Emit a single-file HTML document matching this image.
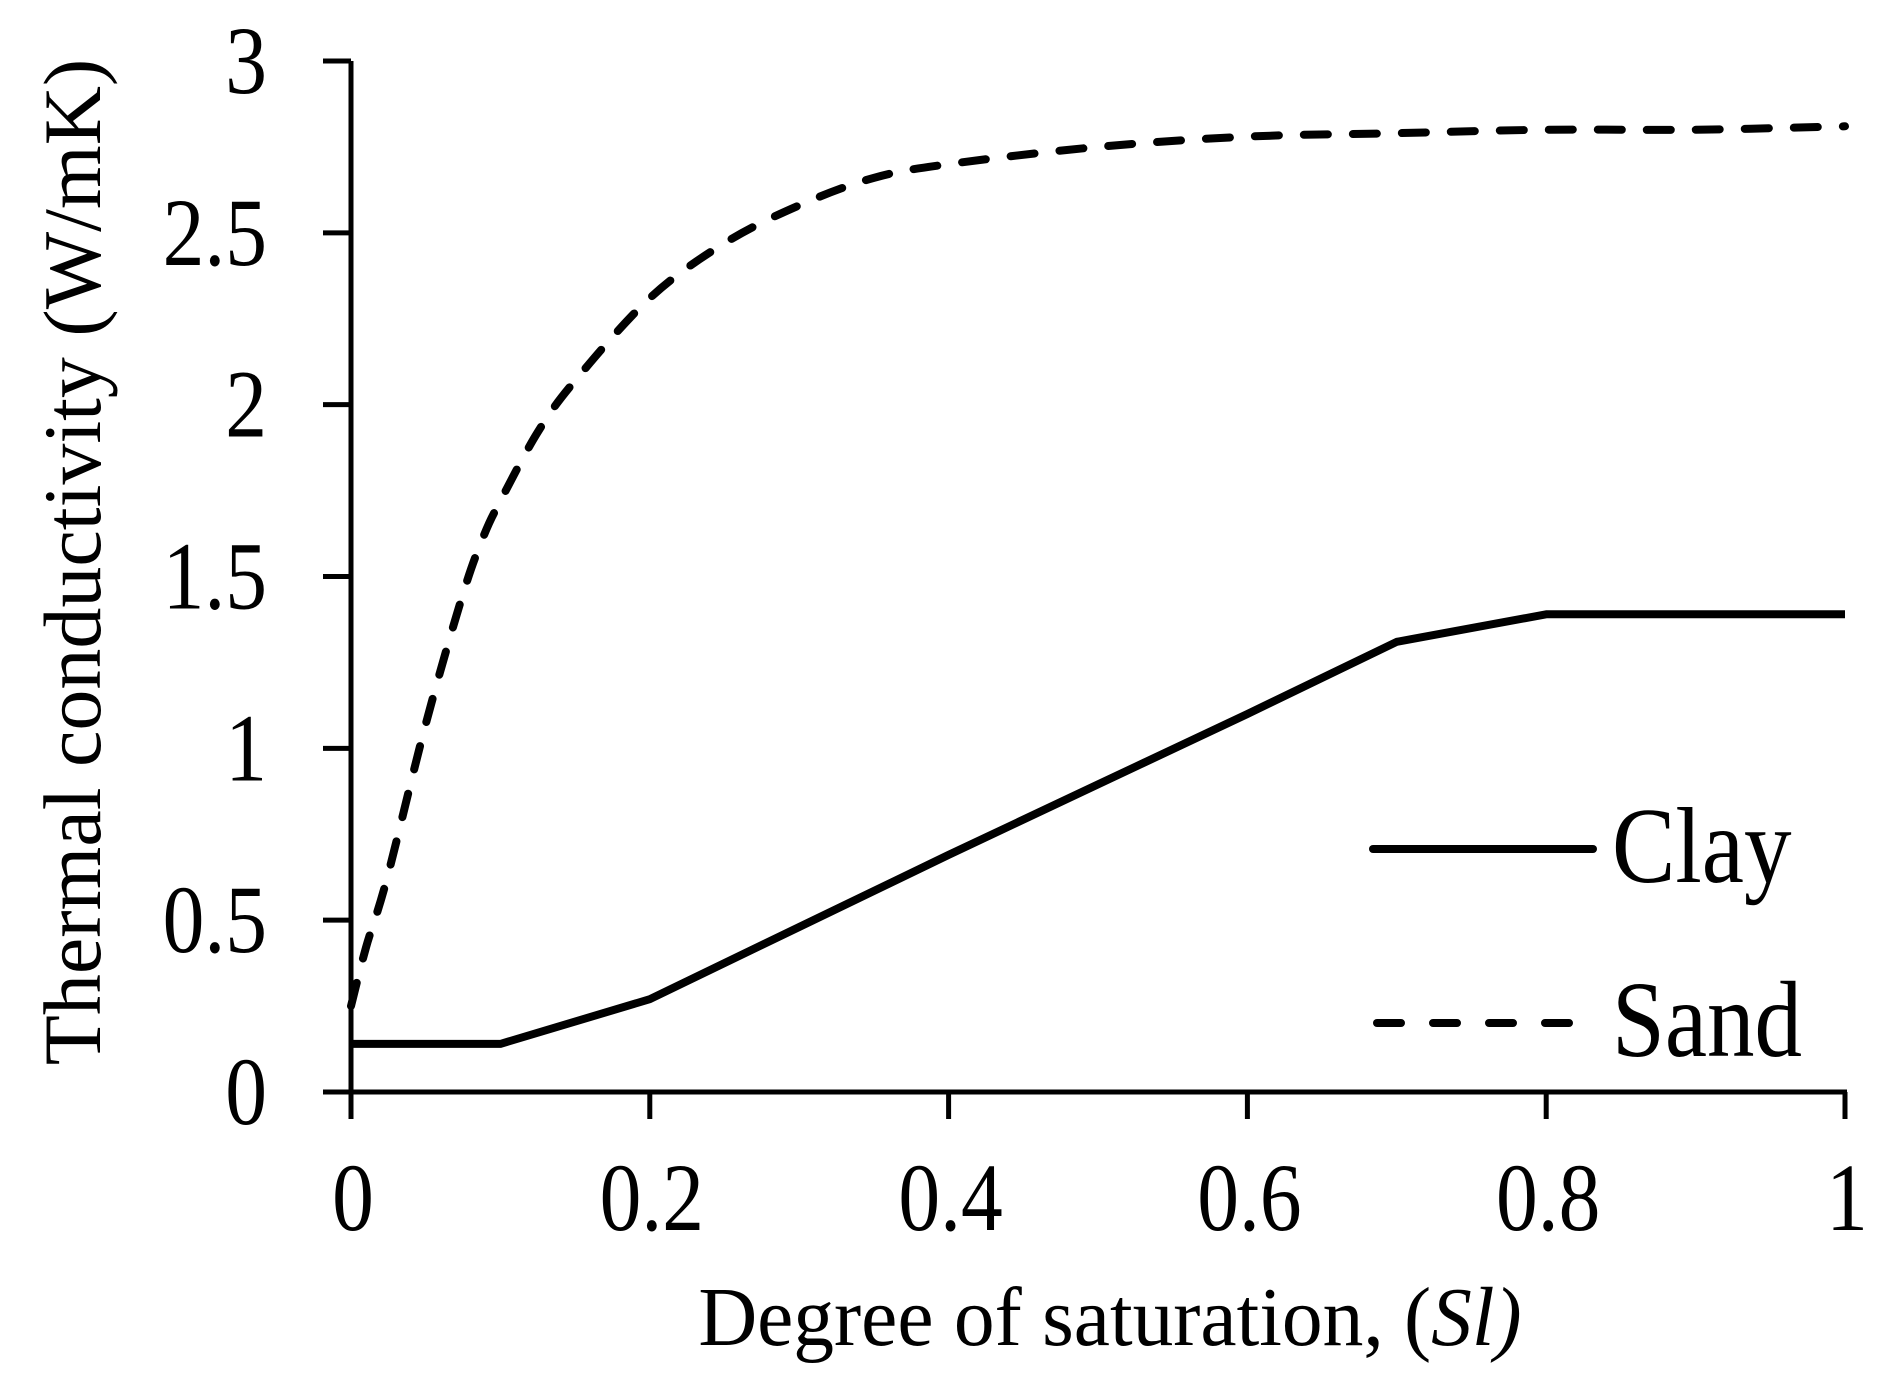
<!DOCTYPE html>
<html><head><meta charset="utf-8"><style>
html,body{margin:0;padding:0;background:#fff;}
svg{display:block;font-family:"Liberation Serif",serif;}
</style></head><body>
<svg id="chart" width="1895" height="1375" viewBox="0 0 1895 1375" xmlns="http://www.w3.org/2000/svg">
<g id="axes"></g>
<g id="series"></g>
<g id="legend">
  <line x1="1373" y1="849" x2="1593" y2="849" stroke="#000" stroke-width="8" stroke-linecap="round"/>
  <text transform="translate(1612,882) scale(0.88,1)" font-size="108">Clay</text>
  <line x1="1377" y1="1023" x2="1593" y2="1023" stroke="#000" stroke-width="8" stroke-linecap="round" stroke-dasharray="24 32"/>
  <text transform="translate(1612,1056) scale(0.88,1)" font-size="108">Sand</text>
</g>
<text transform="translate(1110,1345) scale(0.97,1)" font-size="84" text-anchor="middle">Degree of saturation, (<tspan font-style="italic">Sl)</tspan></text>
<text transform="translate(100,562) rotate(-90)" font-size="82" text-anchor="middle">Thermal conductivity (W/mK)</text>
</svg>
<script>
const xTicks = [0, 0.2, 0.4, 0.6, 0.8, 1];
const xTickLabels = ["0", "0.2", "0.4", "0.6", "0.8", "1"];
const yTicks = [0, 0.5, 1, 1.5, 2, 2.5, 3];
const yTickLabels = ["0", "0.5", "1", "1.5", "2", "2.5", "3"];
const clayX = [0, 0.1, 0.2, 0.3, 0.4, 0.5, 0.6, 0.7, 0.8, 0.9, 1.0];
const clayY = [0.14, 0.14, 0.27, 0.48, 0.69, 0.895, 1.10, 1.31, 1.39, 1.39, 1.39];
const sandX = [0, 0.01, 0.024, 0.05, 0.075, 0.089, 0.1, 0.125, 0.15, 0.2, 0.25, 0.3, 0.35, 0.4, 0.5, 0.6, 0.7, 0.8, 0.9, 1.0];
const sandY = [0.25, 0.42, 0.62, 1.07, 1.45, 1.62, 1.72, 1.92, 2.07, 2.31, 2.47, 2.58, 2.66, 2.70, 2.75, 2.78, 2.79, 2.80, 2.80, 2.81];

const NS = "http://www.w3.org/2000/svg";
const X0 = 351, X1 = 1845, Y0 = 1092, Y1 = 61;
const xs = v => X0 + (v - 0) / (1 - 0) * (X1 - X0);
const ys = v => Y0 - (v - 0) / (3 - 0) * (Y0 - Y1);
function mk(tag, attrs, parent) {
  const el = document.createElementNS(NS, tag);
  for (const k in attrs) el.setAttribute(k, attrs[k]);
  parent.appendChild(el);
  return el;
}
const axes = document.getElementById("axes");
const series = document.getElementById("series");

let el = mk("line", {x1: xs(0), y1: Y1, x2: xs(0), y2: Y0 + 2, stroke: "#000", "stroke-width": 5}, axes);


el = mk("line", {x1: xs(0) - 2, y1: Y0, x2: X1 + 2, y2: Y0, stroke: "#000", "stroke-width": 5}, axes);



yTicks.forEach((t, i) => {
  const y = ys(t);
  const tk = mk("line", {x1: 323, y1: y, x2: xs(0), y2: y, stroke: "#000", "stroke-width": 5}, axes);
  
  
  const lb = mk("text", {transform: "translate(267," + (y + 32) + ") scale(0.87,1)", "font-size": 96, "text-anchor": "end"}, axes);
  lb.textContent = yTickLabels[i];
  
  
});
xTicks.forEach((t, i) => {
  const x = xs(t);
  const tk = mk("line", {x1: x, y1: Y0, x2: x, y2: 1119, stroke: "#000", "stroke-width": 5}, axes);
  
  
  const lb = mk("text", {transform: "translate(" + (x + 2) + ",1230) scale(0.87,1)", "font-size": 96, "text-anchor": "middle"}, axes);
  lb.textContent = xTickLabels[i];
  
  
});

function pathFrom(xa, ya) {
  return xa.map((x, i) => (i ? "L" : "M") + xs(x).toFixed(1) + "," + ys(ya[i]).toFixed(1)).join(" ");
}
function smoothFrom(xa, ya) {
  const p = xa.map((x, i) => [xs(x), ys(ya[i])]);
  let d = "M" + p[0][0] + "," + p[0][1];
  for (let i = 0; i < p.length - 1; i++) {
    const p0 = p[i - 1] || p[i], p1 = p[i], p2 = p[i + 1], p3 = p[i + 2] || p2;
    const c1 = [p1[0] + (p2[0] - p0[0]) / 6, p1[1] + (p2[1] - p0[1]) / 6];
    const c2 = [p2[0] - (p3[0] - p1[0]) / 6, p2[1] - (p3[1] - p1[1]) / 6];
    d += " C" + c1.join(",") + " " + c2.join(",") + " " + p2.join(",");
  }
  return d;
}
el = mk("path", {d: pathFrom(clayX, clayY), fill: "none", stroke: "#000", "stroke-width": 8, "stroke-linejoin": "round"}, series);


el = mk("path", {d: smoothFrom(sandX, sandY), fill: "none", stroke: "#000", "stroke-width": 8, "stroke-linecap": "round", "stroke-dasharray": "24 25"}, series);


</script>
</body></html>
